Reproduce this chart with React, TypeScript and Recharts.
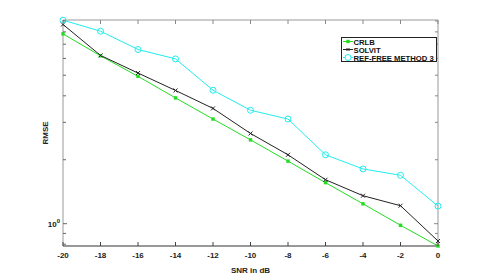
import React from 'react';
import { LineChart, Line, XAxis, YAxis, Legend } from 'recharts';

const snr = [-20, -18, -16, -14, -12, -10, -8, -6, -4, -2, 0];
const crlb = [7.83, 6.17, 4.94, 3.91, 3.11, 2.48, 1.97, 1.56, 1.24, 0.983, 0.785];
const solvit = [8.67, 6.2, 5.12, 4.24, 3.49, 2.66, 2.11, 1.61, 1.354, 1.215, 0.829];
const refFree = [9.08, 8.06, 6.61, 5.97, 4.25, 3.42, 3.11, 2.11, 1.81, 1.69, 1.21];
const xTicks = [-20, -18, -16, -14, -12, -10, -8, -6, -4, -2, 0];
const yTicks = [0.8, 0.9, 1, 2, 3, 4, 5, 6, 7, 8, 9];
const seriesNames = ['CRLB', 'SOLVIT', 'REF-FREE METHOD 3'];

const GREEN = '#22dd22';
const BLACK = '#222222';
const CYAN = '#22eeee';
const FONT = '"Liberation Sans", Arial, Helvetica, sans-serif';

const data = snr.map((s, i) => ({ snr: s, crlb: crlb[i], solvit: solvit[i], ref: refFree[i] }));

const textStyle = { fontFamily: FONT, fontSize: 8, fontWeight: 700, fill: '#222' } as const;
const legendTextStyle = { fontFamily: FONT, fontSize: 7.7, fontWeight: 700, fill: '#111' } as const;

const BottomTick = (p: any) => {
  const { x, y, payload } = p;
  return (
    <g>
      <line x1={x} y1={y} x2={x} y2={y - 4} stroke="#444" strokeWidth={1} />
      <text x={x} y={y + 12} textAnchor="middle" style={textStyle}>{payload.value}</text>
    </g>
  );
};

const TopTick = (p: any) => {
  const { x, y } = p;
  return <line x1={x} y1={y} x2={x} y2={y + 4} stroke="#888" strokeWidth={1} />;
};

const LeftTick = (p: any) => {
  const { x, y, payload } = p;
  const v = payload.value;
  const len = v === 1 ? 4 : 3;
  return (
    <g>
      <line x1={x} y1={y} x2={x + len} y2={y} stroke="#666" strokeWidth={1} />
      {v === 1 ? (
        <text x={x - 3} y={y + 3} textAnchor="end" style={textStyle}>
          10<tspan dy={-4} fontSize={6}>0</tspan>
        </text>
      ) : null}
    </g>
  );
};

const RightTick = (p: any) => {
  const { x, y, payload } = p;
  const len = payload.value === 1 ? 4 : 3;
  return <line x1={x} y1={y} x2={x - len} y2={y} stroke="#888" strokeWidth={1} />;
};

const StarDot = (p: any) => {
  const { cx, cy, index } = p;
  return (
    <g key={`s${index}`}>
      <rect x={cx - 1.7} y={cy - 1.7} width={3.4} height={3.4} fill={GREEN} />
    </g>
  );
};

const XDot = (p: any) => {
  const { cx, cy, index } = p;
  return (
    <g key={`x${index}`}>
      <line x1={cx - 2} y1={cy - 2} x2={cx + 2} y2={cy + 2} stroke={BLACK} strokeWidth={1} />
      <line x1={cx - 2} y1={cy + 2} x2={cx + 2} y2={cy - 2} stroke={BLACK} strokeWidth={1} />
    </g>
  );
};

const ODot = (p: any) => {
  const { cx, cy, index } = p;
  return <circle key={`o${index}`} cx={cx} cy={cy} r={3} fill="none" stroke={CYAN} strokeWidth={1} />;
};

const legendColors = [GREEN, BLACK, CYAN];

const LegendBox = () => (
  <svg width={96} height={26} style={{ display: 'block', overflow: 'visible' }}>
    <rect x={0.5} y={0.5} width={95} height={24} fill="#fff" stroke="#222" strokeWidth={1} />
    {seriesNames.map((n, i) => {
      const cy = 4.5 + i * 8;
      const c = legendColors[i];
      return (
        <g key={n}>
          <line x1={2} y1={cy} x2={12} y2={cy} stroke={c} strokeWidth={1} />
          {i === 0 ? <rect x={5.3} y={cy - 1.7} width={3.4} height={3.4} fill={c} /> : null}
          {i === 1 ? (
            <g>
              <line x1={5.5} y1={cy - 1.5} x2={8.5} y2={cy + 1.5} stroke={c} />
              <line x1={5.5} y1={cy + 1.5} x2={8.5} y2={cy - 1.5} stroke={c} />
            </g>
          ) : null}
          {i === 2 ? <circle cx={7} cy={cy} r={3} fill="#fff" stroke={c} /> : null}
          <text x={12.5} y={cy + 3} style={legendTextStyle}>{n}</text>
        </g>
      );
    })}
  </svg>
);

const XLabel = (props: any) => {
  const vb = props.viewBox || { x: 63, y: 246, width: 375, height: 0 };
  return (
    <text x={vb.x + vb.width / 2} y={vb.y + 27} textAnchor="middle" style={textStyle}>
      SNR in dB
    </text>
  );
};

const YLabel = (props: any) => {
  const vb = props.viewBox || { x: 62, y: 20, width: 1, height: 226 };
  const cx = vb.x + vb.width - 18;
  const cy = vb.y + vb.height / 2;
  return (
    <text x={cx} y={cy} transform={`rotate(-90 ${cx} ${cy})`} textAnchor="middle" dominantBaseline="central" style={textStyle}>
      RMSE
    </text>
  );
};

export default function App() {
  return (
    <div style={{ position: 'absolute', left: 0, top: 0, width: 485, height: 277, background: '#fff' }}>
      <LineChart width={485} height={277} data={data} margin={{ top: 19, right: 46, bottom: 30, left: 62 }}>
        <XAxis
          dataKey="snr"
          type="number"
          domain={[-20, 0]}
          ticks={xTicks}
          interval={0}
          height={1}
          tickSize={0}
          tickMargin={0}
          tickLine={false}
          axisLine={{ stroke: '#333', strokeWidth: 1 }}
          tick={<BottomTick />}
          label={XLabel}
        />
        <XAxis
          xAxisId="top"
          orientation="top"
          dataKey="snr"
          type="number"
          domain={[-20, 0]}
          allowDataOverflow
          ticks={xTicks}
          interval={0}
          height={1}
          tickSize={0}
          tickMargin={0}
          tickLine={false}
          axisLine={{ stroke: '#999', strokeWidth: 1 }}
          tick={<TopTick />}
        />
        <YAxis
          type="number"
          scale="log"
          domain={[0.785, 9.1]}
          ticks={yTicks}
          interval={0}
          width={1}
          tickSize={0}
          tickMargin={0}
          tickLine={false}
          axisLine={{ stroke: '#999', strokeWidth: 1 }}
          tick={<LeftTick />}
          label={YLabel}
        />
        <YAxis
          yAxisId="right"
          orientation="right"
          type="number"
          scale="log"
          domain={[0.785, 9.1]}
          allowDataOverflow
          ticks={yTicks}
          interval={0}
          width={1}
          tickSize={0}
          tickMargin={0}
          tickLine={false}
          axisLine={{ stroke: '#999', strokeWidth: 1 }}
          tick={<RightTick />}
        />
        <Legend
          layout="horizontal"
          verticalAlign="middle"
          align="center"
          content={() => <LegendBox />}
          wrapperStyle={{ position: 'absolute', left: 341, top: 37, width: 96, height: 26, margin: 0, padding: 0 }}
        />
        <Line
          dataKey="crlb"
          name={seriesNames[0]}
          stroke={GREEN}
          strokeWidth={1}
          isAnimationActive={false}
          dot={(p: any) => <StarDot key={`s${p.index}`} {...p} />}
          activeDot={false}
        />
        <Line
          dataKey="solvit"
          name={seriesNames[1]}
          stroke={BLACK}
          strokeWidth={1}
          isAnimationActive={false}
          dot={(p: any) => <XDot key={`x${p.index}`} {...p} />}
          activeDot={false}
        />
        <Line
          dataKey="ref"
          name={seriesNames[2]}
          stroke={CYAN}
          strokeWidth={1}
          isAnimationActive={false}
          dot={(p: any) => <ODot key={`o${p.index}`} {...p} />}
          activeDot={false}
        />
      </LineChart>
    </div>
  );
}
